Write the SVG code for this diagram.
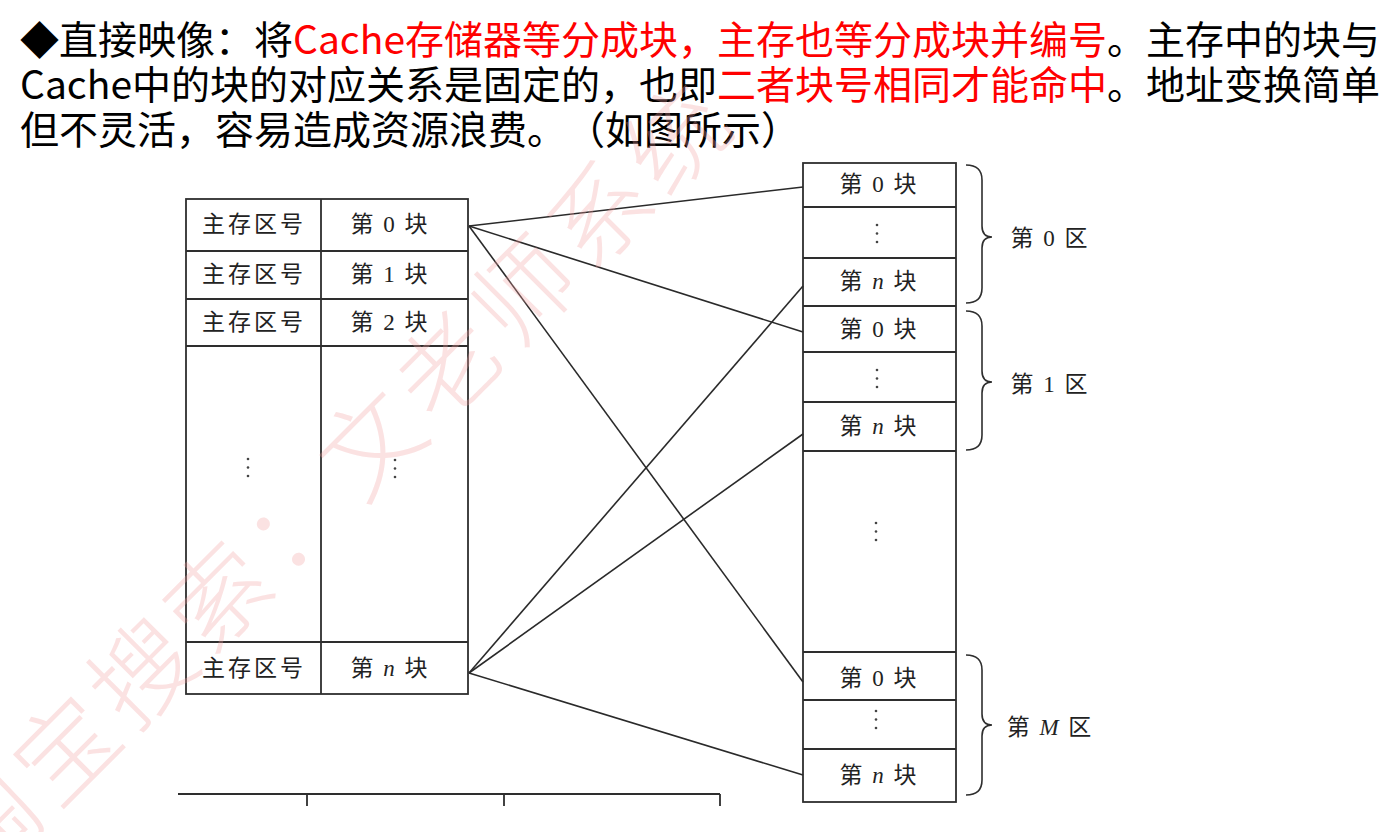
<svg xmlns="http://www.w3.org/2000/svg" xmlns:xlink="http://www.w3.org/1999/xlink" width="1386" height="832" viewBox="0 0 1386 832">
<style>
text{text-spacing-trim:space-all}
.head{font-family:"Noto Sans CJK SC","Noto Sans",sans-serif;font-size:39px;fill:#000}
.red{fill:#ff0000}
.cell{font-family:"Liberation Serif","Noto Sans CJK SC",serif;font-size:23px;fill:#222;text-anchor:middle;dominant-baseline:central}
.zh{letter-spacing:3px}
.blk{letter-spacing:2px}
.tbl{fill:none;stroke:#2e2e2e;stroke-width:1.8}
.conn{fill:none;stroke:#2a2a2a;stroke-width:1.6}
.brace{fill:none;stroke:#2e2e2e;stroke-width:1.6}
.wm{font-family:"Noto Sans CJK SC",sans-serif;font-size:100px;font-weight:300;fill:#f4a0a0;opacity:0.3;letter-spacing:8px;dominant-baseline:central}
</style>
<defs>
<g id="vdots"><circle cx="0" cy="0" r="1.3" fill="#444"/><circle cx="0" cy="8.5" r="1.3" fill="#444"/><circle cx="0" cy="17" r="1.3" fill="#444"/></g>
</defs>
<rect width="1386" height="832" fill="#fff"/>

<g id="heading">
<text class="head" x="20" y="54">◆直接映像：将<tspan class="red">Cache存储器等分成块，主存也等分成块并编号</tspan>。主存中的块与</text>
<text class="head" x="20" y="99">Cache中的块的对应关系是固定的，也即<tspan class="red">二者块号相同才能命中</tspan>。地址变换简单</text>
<text class="head" x="20" y="144">但不灵活，容易造成资源浪费。（如图所示）</text>
</g>

<g id="main-memory">
<rect class="tbl" x="186" y="199" width="282" height="495"/>
<path class="tbl" d="M321,199 V694 M186,251 H468 M186,299 H468 M186,346 H468 M186,642 H468"/>
<text class="cell zh" x="254" y="224">主存区号</text>
<text class="cell blk" x="390" y="224">第 0 块</text>
<text class="cell zh" x="254" y="274">主存区号</text>
<text class="cell blk" x="390" y="274">第 1 块</text>
<text class="cell zh" x="254" y="322">主存区号</text>
<text class="cell blk" x="390" y="322">第 2 块</text>
<use xlink:href="#vdots" x="248" y="459"/>
<use xlink:href="#vdots" x="395" y="460"/>
<text class="cell zh" x="254" y="668">主存区号</text>
<text class="cell blk" x="390" y="668">第 <tspan font-style="italic">n</tspan> 块</text>
</g>

<g id="cache">
<rect class="tbl" x="803" y="163" width="153" height="639"/>
<path class="tbl" d="M803,207 H956 M803,258 H956 M803,306 H956 M803,352 H956 M803,402 H956 M803,451 H956 M803,652 H956 M803,700 H956 M803,749 H956"/>
<text class="cell blk" x="879" y="184">第 0 块</text>
<use xlink:href="#vdots" x="877" y="225"/>
<text class="cell blk" x="879" y="281">第 <tspan font-style="italic">n</tspan> 块</text>
<text class="cell blk" x="879" y="329">第 0 块</text>
<use xlink:href="#vdots" x="877" y="370"/>
<text class="cell blk" x="879" y="426">第 <tspan font-style="italic">n</tspan> 块</text>
<use xlink:href="#vdots" x="876" y="523"/>
<text class="cell blk" x="879" y="678">第 0 块</text>
<use xlink:href="#vdots" x="876" y="711"/>
<text class="cell blk" x="879" y="775">第 <tspan font-style="italic">n</tspan> 块</text>
</g>

<g id="zone0">
<path class="brace" d="M966,165 Q982,165 982,180 L982,226 Q982,237 992,237 Q982,237 982,248 L982,288 Q982,303 966,303"/>
<text class="cell blk" x="1050" y="238">第 0 区</text>
</g>
<g id="zone1">
<path class="brace" d="M966,311 Q982,311 982,326 L982,371 Q982,382 992,382 Q982,382 982,393 L982,435 Q982,450 966,450"/>
<text class="cell blk" x="1050" y="384">第 1 区</text>
</g>
<g id="zoneM">
<path class="brace" d="M966,655 Q982,655 982,670 L982,714 Q982,725 992,725 Q982,725 982,736 L982,780 Q982,795 966,795"/>
<text class="cell blk" x="1050" y="727">第 <tspan font-style="italic">M</tspan> 区</text>
</g>

<g id="connectors">
<path class="conn" d="M469,226 L803,187"/>
<path class="conn" d="M469,226 L803,332"/>
<path class="conn" d="M469,226 L803,682"/>
<path class="conn" d="M469,673 L803,286"/>
<path class="conn" d="M469,673 L803,434"/>
<path class="conn" d="M469,673 L803,775"/>
</g>

<g id="partial-table">
<path class="tbl" d="M178,794 H720 M307,794 V806 M504,794 V806 M720,794 V806"/>
</g>

<g id="watermark">
<text class="wm" transform="translate(-51,856) rotate(-45)" x="0" y="0">淘宝搜索：文老师系统</text>
</g>
</svg>
